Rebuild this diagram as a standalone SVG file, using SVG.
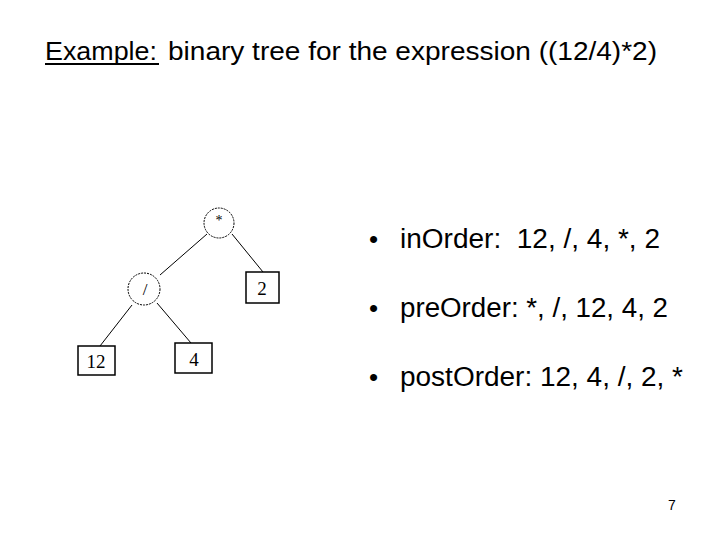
<svg xmlns="http://www.w3.org/2000/svg" width="720" height="540" viewBox="0 0 720 540">
<style>
.t{font-family:"Liberation Sans",Arial,sans-serif;fill:#000}
.n{font-family:"Liberation Serif","Times New Roman",serif;fill:#000;text-anchor:middle}
.c{fill:#fff;stroke:#000;stroke-width:1;stroke-dasharray:2 1}
.b{fill:#fff;stroke:#000;stroke-width:1.5}
.e{stroke:#000;stroke-width:1;fill:none}
</style>
<rect width="720" height="540" fill="#fff"/>
<text class="t" x="45" y="60" font-size="25" textLength="112" lengthAdjust="spacingAndGlyphs">Example:</text>
<text class="t" x="168" y="60" font-size="25" textLength="489" lengthAdjust="spacingAndGlyphs">binary tree for the expression ((12/4)*2)</text>
<line x1="45" y1="64" x2="159" y2="64" stroke="#000" stroke-width="2"/>
<g id="connectors">
<line class="e" x1="207" y1="234" x2="160" y2="275"/>
<line class="e" x1="232" y1="234" x2="263" y2="272"/>
<line class="e" x1="132" y1="305" x2="100" y2="346"/>
<line class="e" x1="157" y1="303" x2="191" y2="343"/>
</g>
<g id="n-mul"><circle class="c" cx="219" cy="223" r="15"/><text class="n" x="219" y="225" font-size="14">*</text></g>
<g id="n-div"><circle class="c" cx="144" cy="289" r="16"/><text class="n" x="145" y="295" font-size="17">/</text></g>
<g id="n-2"><rect class="b" x="246" y="272" width="33" height="31"/><text class="n" x="262" y="295" font-size="19">2</text></g>
<g id="n-12"><rect class="b" x="78" y="346" width="37" height="29"/><text class="n" x="96" y="368" font-size="19">12</text></g>
<g id="n-4"><rect class="b" x="175" y="343" width="37" height="30"/><text class="n" x="194" y="366" font-size="19">4</text></g>
<text class="t" x="369" y="248" font-size="26">•</text>
<text class="t" x="400" y="248" font-size="27" xml:space="preserve" textLength="260" lengthAdjust="spacingAndGlyphs">inOrder:  12, /, 4, *, 2</text>
<text class="t" x="369" y="317" font-size="26">•</text>
<text class="t" x="400" y="317" font-size="27" textLength="268" lengthAdjust="spacingAndGlyphs">preOrder: *, /, 12, 4, 2</text>
<text class="t" x="369" y="386" font-size="26">•</text>
<text class="t" x="400" y="386" font-size="27" textLength="283" lengthAdjust="spacingAndGlyphs">postOrder: 12, 4, /, 2, *</text>
<text class="t" x="668" y="510" font-size="14">7</text>
</svg>
